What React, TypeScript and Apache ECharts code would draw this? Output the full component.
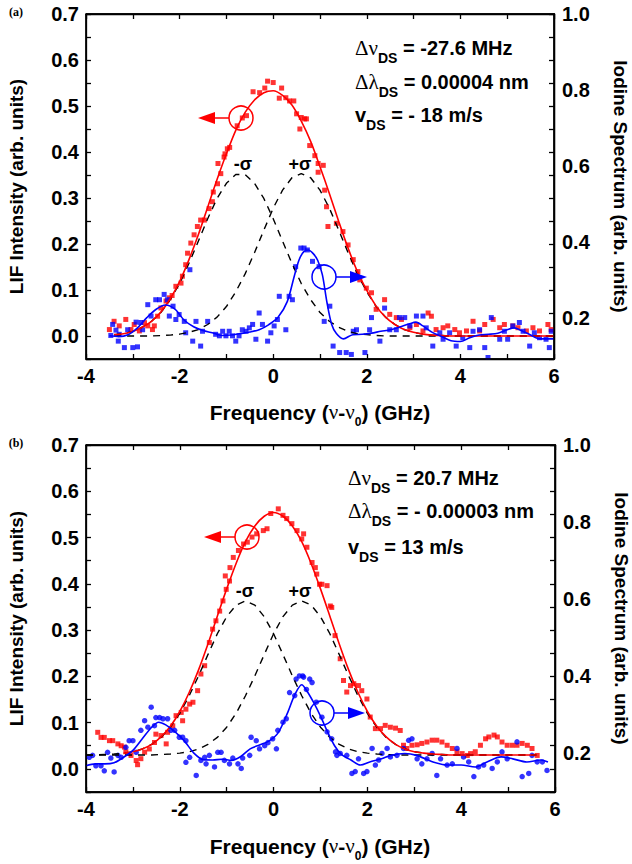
import React, { useEffect, useRef } from 'react';
import * as echarts from 'echarts';

// ---------- Panel (a) ----------
const fitXA = [-3.4, -3.2, -3.0, -2.8, -2.6, -2.4, -2.2, -2.0, -1.8, -1.6, -1.4, -1.2, -1.0, -0.8, -0.6, -0.4, -0.2, 0.0, 0.2, 0.4, 0.6, 0.8, 1.0, 1.2, 1.4, 1.6, 1.8, 2.0, 2.2, 2.4, 2.6, 2.8, 3.0, 3.2, 3.4, 3.6, 3.8, 4.0, 4.2, 4.4, 4.6, 4.8, 5.0, 5.2, 5.4, 5.6, 5.8, 6.0];
const sigmaMinusA = [0.003, 0.005, 0.010, 0.019, 0.032, 0.051, 0.079, 0.114, 0.158, 0.206, 0.255, 0.299, 0.332, 0.351, 0.351, 0.332, 0.299, 0.255, 0.206, 0.158, 0.114, 0.079, 0.051, 0.032, 0.019, 0.010, 0.005, 0.003, 0.001, 0, 0, 0, 0, 0, 0, 0, 0, 0, 0, 0, 0, 0, 0, 0, 0, 0, 0, 0];
const sigmaPlusA = [0, 0, 0, 0, 0, 0.001, 0.002, 0.004, 0.008, 0.014, 0.025, 0.041, 0.064, 0.096, 0.135, 0.181, 0.230, 0.278, 0.317, 0.344, 0.353, 0.344, 0.317, 0.278, 0.230, 0.181, 0.135, 0.096, 0.064, 0.041, 0.025, 0.014, 0.008, 0.004, 0.002, 0.001, 0, 0, 0, 0, 0, 0, 0, 0, 0, 0, 0, 0];
const fitA = [0.003, 0.005, 0.010, 0.019, 0.032, 0.052, 0.081, 0.118, 0.166, 0.220, 0.280, 0.340, 0.396, 0.447, 0.486, 0.513, 0.529, 0.533, 0.523, 0.502, 0.467, 0.423, 0.368, 0.310, 0.249, 0.191, 0.140, 0.099, 0.065, 0.041, 0.025, 0.014, 0.008, 0.004, 0.002, 0.001, 0, 0, 0, 0, 0, 0, 0, 0, 0, 0, 0, 0];

const blueLineXA = [-3.5, -3.3, -3.1, -2.9, -2.7, -2.5, -2.3, -2.1, -1.9, -1.7, -1.5, -1.3, -1.1, -0.9, -0.7, -0.5, -0.3, -0.1, 0.1, 0.3, 0.45, 0.55, 0.65, 0.75, 0.85, 0.95, 1.05, 1.15, 1.25, 1.35, 1.5, 1.7, 1.9, 2.1, 2.3, 2.5, 2.7, 2.9, 3.05, 3.2, 3.4, 3.6, 3.8, 4.0, 4.2, 4.4, 4.6, 4.8, 5.0, 5.15, 5.3, 5.5, 5.7, 6.0];
const blueLineYA = [0.153, 0.151, 0.156, 0.174, 0.201, 0.223, 0.234, 0.223, 0.194, 0.177, 0.167, 0.161, 0.154, 0.155, 0.159, 0.163, 0.169, 0.182, 0.201, 0.243, 0.310, 0.352, 0.374, 0.379, 0.370, 0.352, 0.314, 0.240, 0.183, 0.159, 0.145, 0.156, 0.157, 0.160, 0.165, 0.169, 0.176, 0.184, 0.189, 0.179, 0.162, 0.151, 0.140, 0.138, 0.148, 0.155, 0.157, 0.160, 0.169, 0.174, 0.167, 0.155, 0.145, 0.145];

const redPointsA = [
  [-3.50, 0.014], [-3.40, 0.032], [-3.29, 0.022], [-3.15, 0.036], [-3.04, 0.014], [-2.97, 0.025], [-2.86, 0.011], [-2.75, 0.029],
  [-2.68, 0.022], [-2.58, 0.014], [-2.54, 0.022], [-2.47, 0.043], [-2.40, 0.061], [-2.29, 0.076], [-2.22, 0.083], [-2.16, 0.088],
  [-2.08, 0.108], [-1.97, 0.115], [-1.94, 0.130], [-1.87, 0.155], [-1.83, 0.180], [-1.76, 0.202], [-1.69, 0.220], [-1.62, 0.238],
  [-1.55, 0.252], [-1.47, 0.252], [-1.37, 0.277], [-1.30, 0.292], [-1.28, 0.313], [-1.19, 0.331], [-1.18, 0.375], [-1.12, 0.353],
  [-1.05, 0.389], [-1.03, 0.396], [-0.98, 0.407], [-0.93, 0.410], [-0.77, 0.457], [-0.66, 0.474], [-0.57, 0.479], [-0.43, 0.531],
  [-0.29, 0.529], [-0.18, 0.539], [-0.12, 0.554], [0.00, 0.551], [0.13, 0.517], [0.18, 0.539], [0.27, 0.518], [0.35, 0.511],
  [0.44, 0.511], [0.50, 0.483], [0.57, 0.450], [0.60, 0.475], [0.67, 0.472], [0.71, 0.472], [0.78, 0.414], [0.89, 0.392],
  [0.96, 0.356], [0.96, 0.375], [1.07, 0.371], [1.10, 0.317], [1.14, 0.281], [1.17, 0.238], [1.35, 0.245], [1.49, 0.227],
  [1.60, 0.198], [1.71, 0.166], [1.81, 0.140], [1.85, 0.122], [1.99, 0.104], [2.10, 0.094], [2.20, 0.058], [2.38, 0.079],
  [2.49, 0.047], [2.63, 0.040], [2.74, 0.036], [2.92, 0.018], [3.06, 0.025], [3.20, 0.011], [3.31, 0.050], [3.38, 0.043],
  [3.48, 0.014], [3.63, 0.018], [3.73, 0.022], [3.88, 0.014], [3.98, 0.007], [4.13, 0.011], [4.27, 0.032], [4.41, 0.011],
  [4.52, 0.025], [4.70, 0.036], [4.84, 0.018], [4.94, 0.025], [5.12, 0.022], [5.23, 0.018], [5.41, 0.011], [5.55, 0.018],
  [5.69, 0.011], [5.87, 0.025], [5.94, 0.014],
];

const bluePointsA = [
  [-3.47, 0.154], [-3.43, 0.183], [-3.36, 0.168], [-3.29, 0.157], [-3.31, 0.139], [-3.18, 0.122], [-3.11, 0.169], [-3.00, 0.122],
  [-2.90, 0.124], [-2.93, 0.189], [-2.83, 0.188], [-2.79, 0.169], [-2.68, 0.235], [-2.61, 0.205], [-2.51, 0.248], [-2.43, 0.248],
  [-2.33, 0.262], [-2.26, 0.248], [-2.22, 0.205], [-2.14, 0.231], [-2.08, 0.196], [-2.01, 0.209], [-1.90, 0.191], [-1.87, 0.161],
  [-1.78, 0.327], [-1.72, 0.139], [-1.65, 0.191], [-1.55, 0.126], [-1.51, 0.165], [-1.40, 0.191], [-1.23, 0.157], [-1.15, 0.153],
  [-1.08, 0.165], [-1.01, 0.153], [-0.94, 0.165], [-0.87, 0.153], [-0.80, 0.139], [-0.73, 0.153], [-0.66, 0.169], [-0.58, 0.165],
  [-0.51, 0.174], [-0.44, 0.183], [-0.37, 0.144], [-0.30, 0.213], [-0.23, 0.183], [-0.12, 0.139], [-0.05, 0.161], [0.02, 0.179],
  [0.09, 0.196], [0.13, 0.257], [0.27, 0.169], [0.34, 0.257], [0.41, 0.248], [0.48, 0.335], [0.59, 0.384], [0.66, 0.384],
  [0.73, 0.379], [0.84, 0.349], [0.98, 0.335], [1.09, 0.191], [1.21, 0.231], [1.28, 0.126], [1.42, 0.109], [1.56, 0.109],
  [1.67, 0.104], [1.71, 0.165], [1.78, 0.169], [1.96, 0.109], [2.06, 0.169], [2.10, 0.201], [2.28, 0.139], [2.38, 0.226],
  [2.49, 0.169], [2.63, 0.169], [2.70, 0.201], [2.81, 0.201], [2.92, 0.179], [3.06, 0.205], [3.20, 0.205], [3.27, 0.174],
  [3.41, 0.126], [3.56, 0.161], [3.63, 0.144], [3.77, 0.161], [3.91, 0.126], [4.05, 0.148], [4.20, 0.122], [4.27, 0.165],
  [4.41, 0.169], [4.52, 0.122], [4.59, 0.096], [4.66, 0.201], [4.84, 0.144], [4.94, 0.165], [5.01, 0.144], [5.12, 0.179],
  [5.26, 0.188], [5.34, 0.165], [5.48, 0.126], [5.58, 0.161], [5.69, 0.148], [5.83, 0.144], [5.90, 0.122], [5.94, 0.165],
];

// ---------- Panel (b) ----------
const dashXB = [-4.0, -3.8, -3.6, -3.4, -3.2, -3.0, -2.8, -2.6, -2.4, -2.2, -2.0, -1.8, -1.6, -1.4, -1.2, -1.0, -0.8, -0.6, -0.4, -0.2, 0.0, 0.2, 0.4, 0.6, 0.8, 1.0, 1.2, 1.4, 1.6, 1.8, 2.0, 2.2, 2.4, 2.6, 2.8, 3.0, 3.2, 3.4, 3.6, 3.8, 4.0, 4.2, 4.4, 4.6, 4.8, 5.0, 5.2, 5.4, 5.6];
const sigmaMinusB = [0.030, 0.030, 0.031, 0.032, 0.034, 0.037, 0.043, 0.053, 0.068, 0.090, 0.120, 0.158, 0.201, 0.247, 0.292, 0.329, 0.354, 0.363, 0.354, 0.329, 0.292, 0.247, 0.201, 0.158, 0.120, 0.090, 0.068, 0.053, 0.043, 0.037, 0.034, 0.032, 0.031, 0.030, 0.030, 0.030, 0.030, 0.030, 0.030, 0.030, 0.030, 0.030, 0.030, 0.030, 0.030, 0.030, 0.030, 0.030, 0.030];
const sigmaPlusB = [0.030, 0.030, 0.030, 0.030, 0.030, 0.030, 0.030, 0.030, 0.031, 0.032, 0.034, 0.037, 0.043, 0.053, 0.068, 0.090, 0.120, 0.158, 0.201, 0.247, 0.292, 0.329, 0.354, 0.363, 0.354, 0.329, 0.292, 0.247, 0.201, 0.158, 0.120, 0.090, 0.068, 0.053, 0.043, 0.037, 0.034, 0.032, 0.031, 0.030, 0.030, 0.030, 0.030, 0.030, 0.030, 0.030, 0.030, 0.030, 0.030];
const fitXB = [-3.2, -3.0, -2.8, -2.6, -2.4, -2.2, -2.0, -1.8, -1.6, -1.4, -1.2, -1.0, -0.8, -0.6, -0.4, -0.2, 0.0, 0.2, 0.4, 0.6, 0.8, 1.0, 1.2, 1.4, 1.6, 1.8, 2.0, 2.2, 2.4, 2.6, 2.8, 3.0, 3.2, 3.4, 3.6, 3.8, 4.0, 4.2, 4.4, 4.6, 4.8, 5.0, 5.2, 5.4, 5.6];
const fitB = [0.034, 0.037, 0.043, 0.053, 0.069, 0.092, 0.124, 0.165, 0.214, 0.270, 0.330, 0.389, 0.444, 0.491, 0.525, 0.546, 0.554, 0.546, 0.525, 0.491, 0.444, 0.389, 0.330, 0.270, 0.214, 0.165, 0.124, 0.092, 0.069, 0.053, 0.043, 0.037, 0.034, 0.032, 0.031, 0.030, 0.030, 0.030, 0.030, 0.030, 0.030, 0.030, 0.030, 0.030, 0.030];

const blueLineXB = [-4.0, -3.8, -3.6, -3.4, -3.2, -3.0, -2.8, -2.6, -2.45, -2.3, -2.1, -1.9, -1.7, -1.5, -1.3, -1.1, -0.9, -0.7, -0.5, -0.3, -0.1, 0.1, 0.3, 0.45, 0.6, 0.7, 0.85, 1.0, 1.15, 1.3, 1.45, 1.65, 1.85, 2.05, 2.3, 2.5, 2.8, 3.05, 3.4, 3.7, 4.0, 4.3, 4.55, 4.85, 5.1, 5.4, 5.7, 5.85];
const blueLineYB = [0.168, 0.173, 0.173, 0.176, 0.190, 0.208, 0.238, 0.268, 0.281, 0.274, 0.256, 0.232, 0.201, 0.184, 0.183, 0.185, 0.182, 0.192, 0.212, 0.222, 0.232, 0.254, 0.306, 0.352, 0.378, 0.364, 0.333, 0.297, 0.256, 0.220, 0.197, 0.183, 0.170, 0.178, 0.186, 0.195, 0.200, 0.195, 0.178, 0.170, 0.170, 0.165, 0.178, 0.191, 0.186, 0.178, 0.183, 0.178];

const redPointsB = [
  [-3.75, 0.079], [-3.68, 0.068], [-3.61, 0.068], [-3.50, 0.061], [-3.43, 0.061], [-3.32, 0.054], [-3.25, 0.050], [-3.18, 0.047],
  [-3.15, 0.037], [-3.04, 0.029], [-2.93, 0.018], [-2.90, 0.009], [-2.83, 0.022], [-2.75, 0.036], [-2.65, 0.043], [-2.54, 0.057],
  [-2.51, 0.075], [-2.40, 0.072], [-2.29, 0.054], [-2.26, 0.079], [-2.15, 0.093], [-2.08, 0.115], [-1.97, 0.122], [-1.94, 0.104],
  [-1.87, 0.129], [-1.79, 0.140], [-1.72, 0.144], [-1.62, 0.169], [-1.55, 0.205], [-1.47, 0.223], [-1.37, 0.273], [-1.30, 0.302],
  [-1.23, 0.320], [-1.15, 0.341], [-1.08, 0.363], [-1.01, 0.388], [-0.94, 0.406], [-1.03, 0.417], [-0.93, 0.435], [-0.86, 0.457],
  [-0.75, 0.472], [-0.64, 0.486], [-0.56, 0.490], [-0.46, 0.501], [-0.36, 0.508], [-0.22, 0.515], [-0.14, 0.519], [-0.06, 0.552],
  [0.10, 0.562], [0.20, 0.548], [0.28, 0.541], [0.39, 0.530], [0.50, 0.515], [0.60, 0.497], [0.64, 0.508], [0.71, 0.479],
  [0.82, 0.446], [0.89, 0.435], [0.92, 0.421], [0.98, 0.399], [1.03, 0.399], [1.14, 0.396], [1.21, 0.352], [1.24, 0.349],
  [1.31, 0.288], [1.42, 0.238], [1.49, 0.191], [1.56, 0.166], [1.64, 0.180], [1.71, 0.184], [1.81, 0.180], [1.88, 0.169],
  [1.99, 0.151], [2.06, 0.112], [2.17, 0.087], [2.28, 0.087], [2.38, 0.094], [2.49, 0.090], [2.60, 0.088], [2.70, 0.083],
  [2.77, 0.051], [2.84, 0.044], [2.95, 0.051], [3.06, 0.052], [3.16, 0.055], [3.27, 0.058], [3.38, 0.062], [3.48, 0.062],
  [3.59, 0.058], [3.70, 0.051], [3.81, 0.044], [3.91, 0.037], [4.02, 0.033], [4.13, 0.029], [4.20, 0.033], [4.30, 0.037],
  [4.41, 0.051], [4.52, 0.065], [4.59, 0.069], [4.70, 0.073], [4.77, 0.069], [4.87, 0.058], [4.98, 0.051], [5.09, 0.051],
  [5.19, 0.051], [5.30, 0.055], [5.41, 0.051], [5.51, 0.044], [5.62, 0.029],
];

const bluePointsB = [
  [-3.93, 0.190], [-3.86, 0.195], [-3.79, 0.168], [-3.68, 0.168], [-3.61, 0.155], [-3.54, 0.203], [-3.47, 0.188], [-3.40, 0.152],
  [-3.32, 0.195], [-3.25, 0.190], [-3.15, 0.216], [-3.08, 0.233], [-3.00, 0.233], [-2.93, 0.203], [-2.83, 0.260], [-2.75, 0.285],
  [-2.68, 0.268], [-2.61, 0.320], [-2.54, 0.272], [-2.51, 0.293], [-2.43, 0.293], [-2.36, 0.290], [-2.26, 0.290], [-2.19, 0.260],
  [-2.11, 0.260], [-2.01, 0.242], [-1.94, 0.242], [-1.87, 0.233], [-1.87, 0.177], [-1.79, 0.190], [-1.65, 0.143], [-1.55, 0.182],
  [-1.47, 0.190], [-1.44, 0.173], [-1.37, 0.195], [-1.26, 0.165], [-1.19, 0.203], [-1.12, 0.203], [-1.05, 0.182], [-0.94, 0.173],
  [-0.87, 0.188], [-0.76, 0.173], [-0.69, 0.161], [-0.66, 0.188], [-0.51, 0.195], [-0.48, 0.242], [-0.37, 0.233], [-0.30, 0.212],
  [-0.19, 0.220], [-0.12, 0.228], [-0.02, 0.238], [0.06, 0.212], [0.09, 0.260], [0.20, 0.281], [0.27, 0.290], [0.34, 0.358],
  [0.45, 0.350], [0.48, 0.393], [0.55, 0.401], [0.62, 0.401], [0.64, 0.398], [0.70, 0.366], [0.77, 0.393], [0.82, 0.384],
  [0.91, 0.333], [1.03, 0.294], [1.14, 0.256], [1.24, 0.238], [1.32, 0.204], [1.35, 0.195], [1.42, 0.200], [1.56, 0.195],
  [1.67, 0.148], [1.74, 0.153], [1.81, 0.186], [1.92, 0.148], [1.99, 0.153], [2.10, 0.213], [2.17, 0.170], [2.24, 0.183],
  [2.31, 0.200], [2.42, 0.213], [2.49, 0.191], [2.63, 0.195], [2.77, 0.213], [2.88, 0.234], [2.95, 0.238], [3.06, 0.186],
  [3.16, 0.173], [3.27, 0.186], [3.38, 0.200], [3.48, 0.143], [3.56, 0.186], [3.70, 0.170], [3.81, 0.173], [3.91, 0.213],
  [4.05, 0.191], [4.16, 0.178], [4.27, 0.140], [4.37, 0.165], [4.48, 0.170], [4.66, 0.161], [4.77, 0.178], [4.87, 0.204],
  [4.98, 0.186], [5.19, 0.230], [5.30, 0.140], [5.44, 0.148], [5.51, 0.195], [5.62, 0.178], [5.73, 0.178], [5.83, 0.156],
];

// ---------- Axes ----------
const X_MIN = -4;
const X_MAX = 6;
const L_MIN = -0.05;
const L_MAX = 0.7;
const xTickLabels = ['-4', '-2', '0', '2', '4', '6'];
const leftTickLabels = ['0.0', '0.1', '0.2', '0.3', '0.4', '0.5', '0.6', '0.7'];
const rightTickLabels = ['0.2', '0.4', '0.6', '0.8', '1.0'];

const GRID_A = { left: 86, top: 14, width: 468, height: 345 };
const GRID_B = { left: 86, top: 445, width: 469, height: 347 };

const SANS = '"Liberation Sans", Arial, sans-serif';
const SERIF = '"Liberation Serif", "Times New Roman", serif';
const RED = '#ff0000';
const BLUE = '#0000ff';
const AX = '#000000';

const pair = (xs: number[], ys: number[]) => xs.map((x, i) => [x, ys[i]]);
const tickLabelStyle = () => ({ fontFamily: SANS, fontWeight: 'bold' as const, fontSize: 20, color: '#000' });
const axLine = () => ({ color: AX, width: 1.3 });

let measureCtx: CanvasRenderingContext2D | null = null;
function textWidth(text: string, font: string) {
  if (!measureCtx) measureCtx = document.createElement('canvas').getContext('2d');
  measureCtx!.font = font;
  return measureCtx!.measureText(text).width;
}

type Piece = { text: string; font: string; dy: number };

function composed(x: number, y: number, pieces: Piece[], align: 'left' | 'center') {
  const widths = pieces.map((p) => textWidth(p.text, p.font));
  const total = widths.reduce((a, b) => a + b, 0);
  let cx = align === 'center' ? -total / 2 : 0;
  const children = pieces.map((p, i) => {
    const el = { type: 'text', x: cx, y: p.dy, style: { text: p.text, font: p.font, fill: '#000', align: 'left', verticalAlign: 'middle' } };
    cx += widths[i];
    return el;
  });
  return { type: 'group', x, y, z: 100, children };
}

const F_MAIN = `bold 20px ${SANS}`;
const F_GREEK = `21px ${SERIF}`;
const F_SUB = `bold 14px ${SANS}`;
const F_TITLE = `bold 21px ${SANS}`;
const F_TITLE_G = `21px ${SERIF}`;
const F_TITLE_SUB = `bold 12px ${SANS}`;

function freqTitle(y: number) {
  return composed(320, y, [
    { text: 'Frequency (', font: F_TITLE, dy: 0 },
    { text: 'ν', font: F_TITLE_G, dy: 0 },
    { text: '-', font: F_TITLE, dy: 0 },
    { text: 'ν', font: F_TITLE_G, dy: 0 },
    { text: '0', font: F_TITLE_SUB, dy: 10 },
    { text: ') (GHz)', font: F_TITLE, dy: 0 },
  ], 'center');
}

function ann(x: number, y: number, head: string, headFont: string, rest: string) {
  return composed(x, y, [
    { text: head, font: headFont, dy: 0 },
    { text: 'DS', font: F_SUB, dy: 10 },
    { text: rest, font: F_MAIN, dy: 0 },
  ], 'left');
}

function xAxesFor(grid: number) {
  return [
    {
      type: 'value', gridIndex: grid, position: 'bottom', min: X_MIN, max: X_MAX, interval: 1,
      axisLine: { show: true, onZero: false, lineStyle: axLine() },
      axisTick: { show: true, inside: true, length: 5, lineStyle: axLine() },
      axisLabel: {
        ...tickLabelStyle(), margin: 7,
        formatter: (v: number) => {
          const s = String(Math.round(v));
          return xTickLabels.includes(s) ? s : '';
        },
      },
      splitLine: { show: false },
    },
    {
      type: 'value', gridIndex: grid, position: 'top', min: X_MIN, max: X_MAX, interval: 1,
      axisLine: { show: true, onZero: false, lineStyle: axLine() },
      axisTick: { show: true, inside: true, length: 5, lineStyle: axLine() },
      axisLabel: { show: false }, splitLine: { show: false },
    },
  ];
}

function yAxesFor(grid: number, rightMin: number) {
  return [
    {
      type: 'value', gridIndex: grid, position: 'left', min: L_MIN, max: L_MAX, interval: 0.05,
      axisLine: { show: true, onZero: false, lineStyle: axLine() },
      axisTick: { show: true, inside: true, length: 5, lineStyle: axLine() },
      axisLabel: {
        ...tickLabelStyle(), margin: 7,
        formatter: (v: number) => {
          const r = Math.round(v * 100);
          if (r < 0 || r % 10 !== 0) return '';
          const s = (r / 100).toFixed(1);
          return leftTickLabels.includes(s) ? s : '';
        },
      },
      splitLine: { show: false },
      name: 'LIF Intensity (arb. units)', nameLocation: 'middle', nameGap: 60, nameRotate: 90,
      nameTextStyle: { fontFamily: SANS, fontWeight: 'bold', fontSize: 19, color: '#000' },
    },
    {
      type: 'value', gridIndex: grid, position: 'right', min: rightMin, max: 1.0, splitNumber: 5,
      axisLine: { show: true, onZero: false, lineStyle: axLine() },
      axisTick: { show: false },
      axisLabel: {
        ...tickLabelStyle(), margin: 8, showMinLabel: true, showMaxLabel: true,
        formatter: (v: number) => {
          const s = v.toFixed(1);
          return rightTickLabels.includes(s) && Math.abs(v - parseFloat(s)) < 1e-6 ? s : '';
        },
      },
      splitLine: { show: false },
      name: 'Iodine Spectrum (arb. units)', nameLocation: 'middle', nameGap: 57, nameRotate: -90,
      nameTextStyle: { fontFamily: SANS, fontWeight: 'bold', fontSize: 19, color: '#000' },
    },
    {
      type: 'value', gridIndex: grid, position: 'right', min: L_MIN, max: L_MAX, interval: 0.05,
      axisLine: { show: true, onZero: false, lineStyle: axLine() },
      axisTick: { show: true, inside: true, length: 5, lineStyle: axLine() },
      axisLabel: { show: false }, splitLine: { show: false },
    },
  ];
}

function seriesFor(
  xi: number, yl: number, yr: number,
  red: number[][], blue: number[][], blueSymbol: string,
  dashX: number[], minus: number[], plus: number[],
  fitX: number[], fit: number[], bx: number[], by: number[],
) {
  const dash = () => ({ color: '#000', width: 1.4, type: [7, 6] as any });
  return [
    { type: 'scatter', xAxisIndex: xi, yAxisIndex: yl, data: red, symbol: 'rect', symbolSize: 5, itemStyle: { color: RED } },
    { type: 'scatter', xAxisIndex: xi, yAxisIndex: yr, data: blue, symbol: blueSymbol, symbolSize: blueSymbol === 'circle' ? 5.5 : 5, itemStyle: { color: BLUE } },
    { type: 'line', xAxisIndex: xi, yAxisIndex: yl, data: pair(dashX, minus), showSymbol: false, lineStyle: dash() },
    { type: 'line', xAxisIndex: xi, yAxisIndex: yl, data: pair(dashX, plus), showSymbol: false, lineStyle: dash() },
    { type: 'line', xAxisIndex: xi, yAxisIndex: yl, data: pair(fitX, fit), showSymbol: false, smooth: 0.3, lineStyle: { color: RED, width: 1.6 } },
    { type: 'line', xAxisIndex: xi, yAxisIndex: yr, data: pair(bx, by), showSymbol: false, smooth: 0.3, lineStyle: { color: BLUE, width: 1.6 } },
  ];
}

function marker(cx: number, cy: number, color: string, dir: number) {
  const r = 12;
  const edge = cx + dir * r;
  const base = cx + dir * (r + 14);
  const tip = cx + dir * (r + 31);
  return [
    { type: 'circle', shape: { cx, cy, r }, style: { fill: 'none', stroke: color, lineWidth: 1.5 }, z: 100 },
    { type: 'line', shape: { x1: edge, y1: cy, x2: base, y2: cy }, style: { stroke: color, lineWidth: 1.5 }, z: 100 },
    { type: 'polygon', shape: { points: [[tip, cy], [base, cy - 6], [base, cy + 6]] }, style: { fill: color }, z: 100 },
  ];
}

// Plot box outline (same box as the grid)
function frameBox(g: { left: number; top: number; width: number; height: number }) {
  const l = g.left, t = g.top, r = g.left + g.width, b = g.top + g.height;
  const st = { stroke: AX, lineWidth: 1.3 };
  return [
    { type: 'line', z: 1000, shape: { x1: l, y1: t, x2: r, y2: t }, style: st },
    { type: 'line', z: 1000, shape: { x1: l, y1: b, x2: r, y2: b }, style: st },
    { type: 'line', z: 1000, shape: { x1: l, y1: t, x2: l, y2: b }, style: st },
    { type: 'line', z: 1000, shape: { x1: r, y1: t, x2: r, y2: b }, style: st },
  ];
}

function sigma(x: number, y: number, text: string) {
  return { type: 'text', x, y, z: 100, style: { text, font: `bold 18px ${SANS}`, fill: '#000', align: 'center', verticalAlign: 'middle' } };
}

function panelLabel(x: number, y: number, text: string) {
  return { type: 'text', x, y, z: 100, style: { text, font: `bold 12px ${SERIF}`, fill: '#000', align: 'center', verticalAlign: 'middle' } };
}

export default function App() {
  const ref = useRef<HTMLDivElement>(null);
  useEffect(() => {
    const chart = echarts.init(ref.current!, null, { renderer: 'svg' });
    const option: any = {
      animation: false,
      grid: [
        { ...GRID_A, containLabel: false, outerBoundsMode: 'none', show: true, borderColor: AX, borderWidth: 1.3, backgroundColor: 'transparent' },
        { ...GRID_B, containLabel: false, outerBoundsMode: 'none', show: true, borderColor: AX, borderWidth: 1.3, backgroundColor: 'transparent' },
      ],
      xAxis: [...xAxesFor(0), ...xAxesFor(1)],
      yAxis: [...yAxesFor(0, 0.092), ...yAxesFor(1, 0.1)],
      series: [
        ...seriesFor(0, 0, 1, redPointsA, bluePointsA, 'rect', fitXA, sigmaMinusA, sigmaPlusA, fitXA, fitA, blueLineXA, blueLineYA),
        ...seriesFor(2, 3, 4, redPointsB, bluePointsB, 'circle', dashXB, sigmaMinusB, sigmaPlusB, fitXB, fitB, blueLineXB, blueLineYB),
      ],
      graphic: [
        panelLabel(16, 12, '(a)'),
        panelLabel(16, 443, '(b)'),
        ann(355, 48, 'Δν', F_GREEK, ' = -27.6 MHz'),
        ann(355, 82, 'Δλ', F_GREEK, ' = 0.00004 nm'),
        ann(355, 115, 'v', F_MAIN, ' = - 18 m/s'),
        ann(348, 478, 'Δν', F_GREEK, ' = 20.7 MHz'),
        ann(348, 511, 'Δλ', F_GREEK, ' = - 0.00003 nm'),
        ann(348, 547, 'v', F_MAIN, ' = 13 m/s'),
        freqTitle(412),
        freqTitle(846),
        sigma(243, 164, '-σ'),
        sigma(300, 164, '+σ'),
        sigma(245, 591, '-σ'),
        sigma(300, 591, '+σ'),
        ...marker(241, 118, RED, -1),
        ...marker(324, 277, BLUE, 1),
        ...marker(247, 537, RED, -1),
        ...marker(322, 713, BLUE, 1),
        ...frameBox(GRID_A),
        ...frameBox(GRID_B),
      ],
    };
    chart.setOption(option);
    return () => chart.dispose();
  }, []);
  return <div ref={ref} style={{ position: 'absolute', left: 0, top: 0, width: 632, height: 864, background: '#fff' }} />;
}
